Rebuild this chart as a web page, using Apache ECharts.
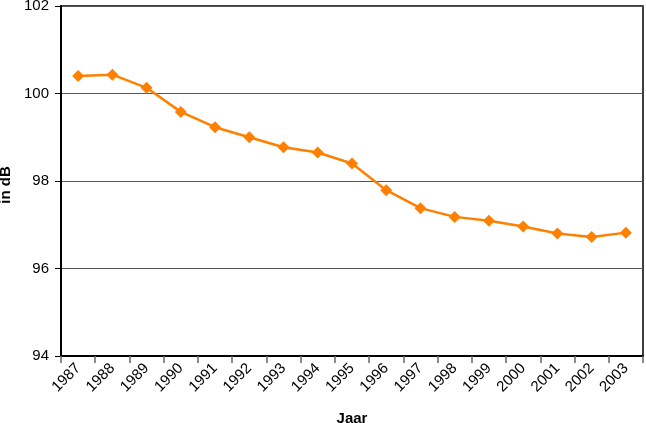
<!DOCTYPE html>
<html><head><meta charset="utf-8">
<script src="https://cdn.jsdelivr.net/npm/echarts@6/dist/echarts.min.js"></script>
<style>html,body{margin:0;padding:0;background:#fff}#c{width:646px;height:423px}</style>
</head><body><div id="c"></div>
<script>
var years = ['1987','1988','1989','1990','1991','1992','1993','1994','1995','1996','1997','1998','1999','2000','2001','2002','2003'];
var levels = [100.4,100.43,100.13,99.58,99.23,99.0,98.77,98.65,98.4,97.79,97.38,97.18,97.09,96.96,96.8,96.72,96.82];
var yTicks = [94,96,98,100,102];
var chart = echarts.init(document.getElementById('c'));
chart.setOption({
  animation:false,
  grid:{left:61,right:3,top:6,bottom:67,show:true,borderColor:'#000',borderWidth:1.5,outerBoundsMode:'none',containLabel:false},
  xAxis:{type:'category',data:years,boundaryGap:true,
    name:'Jaar',nameLocation:'middle',nameGap:55,
    nameTextStyle:{fontFamily:'Liberation Sans',fontWeight:'bold',fontSize:15,color:'#000'},
    axisLine:{lineStyle:{color:'#000',width:2}},
    axisTick:{show:true,length:7,lineStyle:{color:'#666',width:1.5}},
    axisLabel:{rotate:45,margin:10,fontFamily:'Liberation Sans',fontSize:15,color:'#000'}},
  yAxis:{type:'value',min:yTicks[0],max:yTicks[yTicks.length-1],interval:2,
    name:'in dB',nameLocation:'middle',nameGap:48,nameRotate:90,
    nameTextStyle:{fontFamily:'Liberation Sans',fontWeight:'bold',fontSize:15,color:'#000',padding:[0,8,0,0]},
    axisLine:{show:true,lineStyle:{color:'#000',width:2}},
    axisTick:{show:true,length:6,lineStyle:{color:'#000',width:1}},
    axisLabel:{margin:12,fontFamily:'Liberation Sans',fontSize:15,color:'#000'},
    splitLine:{show:true,lineStyle:{color:'#555',width:1.2}}},
  series:[{type:'line',data:levels,symbol:'diamond',symbolSize:12,
    lineStyle:{color:'#FF7F00',width:2.5},itemStyle:{color:'#FF7F00'}}]
});
</script></body></html>
